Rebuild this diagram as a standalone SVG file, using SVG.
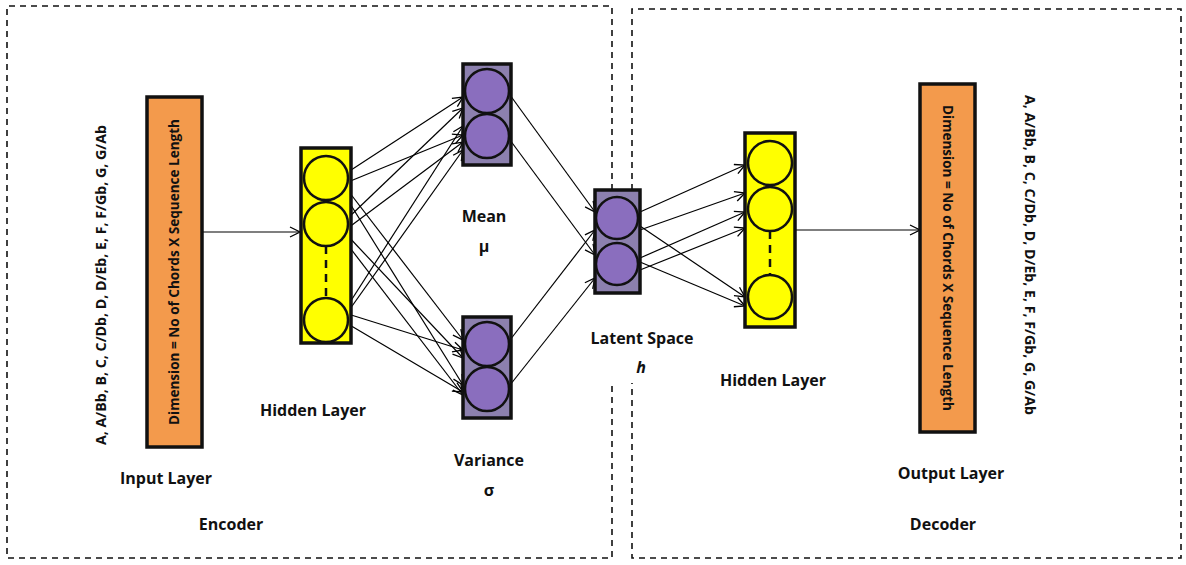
<svg xmlns="http://www.w3.org/2000/svg" width="1186" height="565" viewBox="0 0 1186 565">
  <defs>
    <marker id="arr" viewBox="0 0 12 12" refX="11" refY="6" markerWidth="12" markerHeight="12" markerUnits="userSpaceOnUse" orient="auto">
      <path d="M1,1 L11,6 L1,11" fill="none" stroke="#000" stroke-width="1.3"/>
    </marker>
    <style>
      .frame { fill: none; stroke: #111; stroke-width: 1.6; stroke-dasharray: 6 5; }
      .orange { fill: #F39A4C; stroke: #111; stroke-width: 3.5; }
      .yellow { fill: #FFFF00; stroke: #111; stroke-width: 3.5; }
      .ycirc { fill: #FFFF00; stroke: #111; stroke-width: 2.5; }
      .purple { fill: #8C80AE; stroke: #111; stroke-width: 3.5; }
      .pcirc { fill: #8A6EBE; stroke: #111; stroke-width: 2.5; }
      .dash { stroke: #111; stroke-width: 2.5; stroke-dasharray: 8 6; }
      .lbl { font-family: "Open Sans", "Liberation Sans", sans-serif; font-weight: 700; font-size: 16px; fill: #111; text-anchor: middle; }
      .rot { font-family: "Open Sans", "Liberation Sans", sans-serif; font-weight: 700; font-size: 13.5px; fill: #111; text-anchor: middle; }
      .edge { stroke: #000; stroke-width: 1.2; fill: none; marker-end: url(#arr); }
    </style>
  </defs>
  <rect width="1186" height="565" fill="#fff"/>

  <!-- encoder / decoder frames -->
  <g id="frames">
    <path class="frame" d="M612,190 L612,6 L7,6 L7,558 L612,558 L612,383"/>
    <path class="frame" d="M632,190 L632,9 L1181,9 L1181,558 L632,558 L632,383"/>
  </g>

  <!-- connectors -->
  <g id="connectors">
    <line class="edge" x1="203" y1="232" x2="300" y2="232"/>
    <!-- hidden -> mean -->
    <line class="edge" x1="348" y1="172" x2="463" y2="97"/>
    <line class="edge" x1="348" y1="182" x2="463" y2="135"/>
    <line class="edge" x1="348" y1="218" x2="463" y2="108"/>
    <line class="edge" x1="348" y1="228" x2="463" y2="142"/>
    <line class="edge" x1="345" y1="310" x2="463" y2="126"/>
    <line class="edge" x1="345" y1="316" x2="463" y2="150"/>
    <!-- hidden -> variance -->
    <line class="edge" x1="346" y1="188" x2="463" y2="340"/>
    <line class="edge" x1="344" y1="194" x2="463" y2="385"/>
    <line class="edge" x1="346" y1="234" x2="463" y2="358"/>
    <line class="edge" x1="344" y1="240" x2="463" y2="395"/>
    <line class="edge" x1="348" y1="314" x2="463" y2="350"/>
    <line class="edge" x1="348" y1="324" x2="463" y2="392"/>
    <!-- mean / variance -> latent -->
    <line class="edge" x1="510" y1="95" x2="595" y2="212"/>
    <line class="edge" x1="510" y1="140" x2="595" y2="255"/>
    <line class="edge" x1="510" y1="340" x2="595" y2="230"/>
    <line class="edge" x1="510" y1="385" x2="595" y2="278"/>
    <!-- latent -> decoder hidden -->
    <line class="edge" x1="640" y1="212" x2="745" y2="165"/>
    <line class="edge" x1="640" y1="226" x2="745" y2="297"/>
    <line class="edge" x1="640" y1="230" x2="745" y2="193"/>
    <line class="edge" x1="640" y1="258" x2="745" y2="212"/>
    <line class="edge" x1="640" y1="270" x2="745" y2="228"/>
    <line class="edge" x1="640" y1="262" x2="745" y2="306"/>
    <line class="edge" x1="795" y1="230" x2="920" y2="230"/>
  </g>

  <!-- input layer -->
  <g id="input-layer">
    <rect class="orange" x="147" y="97" width="55" height="350"/>
    <text class="rot" transform="translate(179,272) rotate(-90)" textLength="306" lengthAdjust="spacingAndGlyphs">Dimension = No of Chords X Sequence Length</text>
    <text class="rot" transform="translate(106,285) rotate(-90)" textLength="320" lengthAdjust="spacingAndGlyphs">A, A/Bb, B, C, C/Db, D, D/Eb, E, F, F/Gb, G, G/Ab</text>
    <text class="lbl" x="166" y="484">Input Layer</text>
  </g>

  <!-- encoder hidden layer -->
  <g id="enc-hidden">
    <rect class="yellow" x="301" y="148" width="50" height="195"/>
    <line class="dash" x1="326" y1="246" x2="326" y2="298"/>
    <circle class="ycirc" cx="326" cy="178" r="22"/>
    <circle class="ycirc" cx="326" cy="224" r="22"/>
    <circle class="ycirc" cx="326" cy="320" r="22"/>
    <text class="lbl" x="313" y="416">Hidden Layer</text>
  </g>

  <!-- mean -->
  <g id="mean">
    <rect class="purple" x="463" y="64" width="48" height="101"/>
    <circle class="pcirc" cx="487" cy="91" r="22"/>
    <circle class="pcirc" cx="487" cy="136" r="22"/>
    <text class="lbl" x="484" y="222">Mean</text>
    <text class="lbl" x="484" y="252">μ</text>
  </g>

  <!-- variance -->
  <g id="variance">
    <rect class="purple" x="463" y="317" width="48" height="101"/>
    <circle class="pcirc" cx="487" cy="344" r="22"/>
    <circle class="pcirc" cx="487" cy="389" r="22"/>
    <text class="lbl" x="489" y="466">Variance</text>
    <text class="lbl" x="489" y="496">σ</text>
  </g>

  <!-- latent space -->
  <g id="latent">
    <rect class="purple" x="595" y="190" width="45" height="103"/>
    <circle class="pcirc" cx="617" cy="218" r="21"/>
    <circle class="pcirc" cx="617" cy="264" r="21"/>
    <text class="lbl" x="642" y="344">Latent Space</text>
    <text class="lbl" x="641" y="373" font-style="italic">h</text>
  </g>

  <!-- decoder hidden layer -->
  <g id="dec-hidden">
    <rect class="yellow" x="745" y="133" width="50" height="194"/>
    <line class="dash" x1="770" y1="231" x2="770" y2="275"/>
    <circle class="ycirc" cx="770" cy="163" r="22"/>
    <circle class="ycirc" cx="770" cy="209" r="22"/>
    <circle class="ycirc" cx="770" cy="297" r="22"/>
    <text class="lbl" x="773" y="386">Hidden Layer</text>
  </g>

  <!-- output layer -->
  <g id="output-layer">
    <rect class="orange" x="920" y="84" width="55" height="348"/>
    <text class="rot" transform="translate(943,258) rotate(90)" textLength="306" lengthAdjust="spacingAndGlyphs">Dimension = No of Chords X Sequence Length</text>
    <text class="rot" transform="translate(1025,255) rotate(90)" textLength="320" lengthAdjust="spacingAndGlyphs">A, A/Bb, B, C, C/Db, D, D/Eb, E, F, F/Gb, G, G/Ab</text>
    <text class="lbl" x="951" y="479">Output Layer</text>
  </g>

  <g id="section-labels">
    <text class="lbl" x="231" y="530">Encoder</text>
    <text class="lbl" x="943" y="530">Decoder</text>
  </g>
</svg>
